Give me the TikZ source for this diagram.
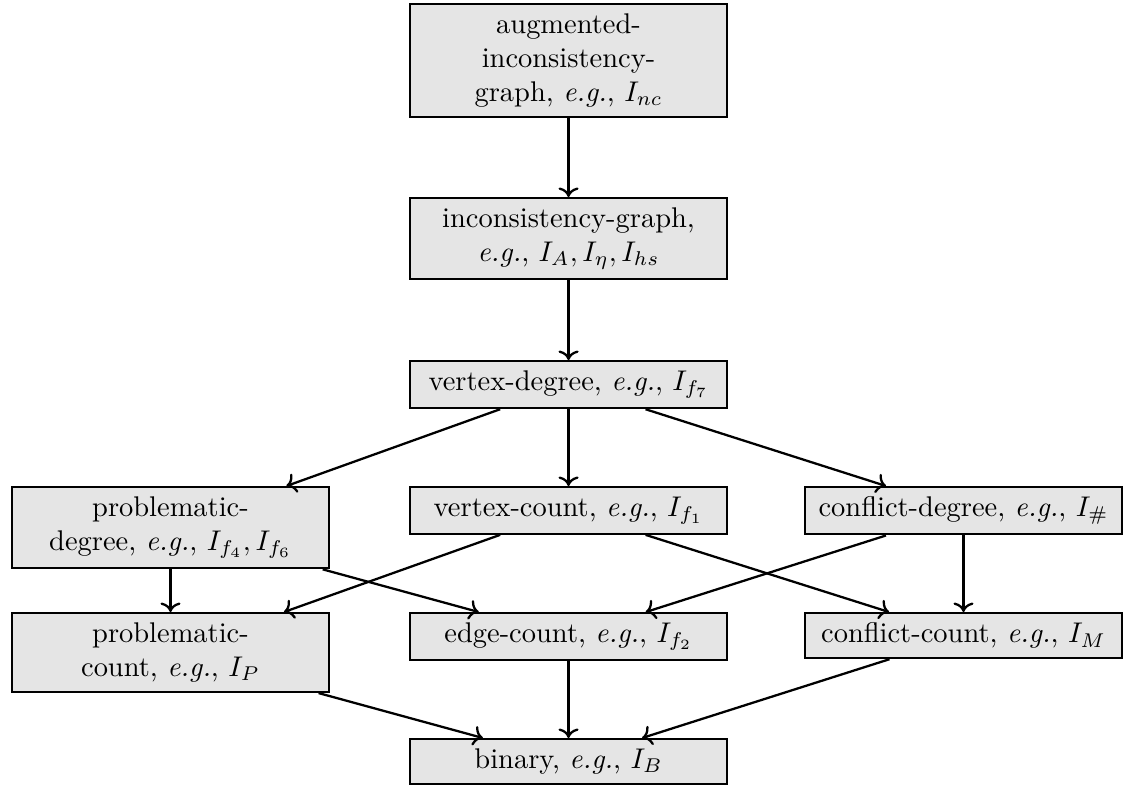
\documentclass[tikz,border=0pt]{standalone}
\usepackage{tikz}
\usetikzlibrary{positioning,arrows.meta}
\usepackage{amsmath}
\usepackage{amssymb}

\tikzset{
  cls/.style={draw, thick, fill=gray!20, align=center, minimum width=3.91cm, anchor=north},
  sub/.style={->, thick}
}

\begin{document}
\begin{tikzpicture}
\useasboundingbox (0,0) rectangle (13.926,-9.679);

% Top chain
\node[cls] (aug) at (7.019,-0.037) {augmented-\\inconsistency-\\graph, \textit{e.g.}, $I_{nc}$};
\node[cls] (incg) at (7.019,-2.432) {inconsistency-graph,\\\textit{e.g.}, $I_A, I_\eta, I_{hs}$};
\node[cls] (vdeg) at (7.019,-4.445) {vertex-degree, \textit{e.g.}, $I_{f_7}$};

% Degree row
\node[cls] (pdeg) at (2.105,-6.0) {problematic-\\degree, \textit{e.g.}, $I_{f_4}, I_{f_6}$};
\node[cls] (vcnt) at (7.019,-6.0) {vertex-count, \textit{e.g.}, $I_{f_1}$};
\node[cls] (cdeg) at (11.895,-6.0) {conflict-degree, \textit{e.g.}, $I_\#$};

% Count row
\node[cls] (pcnt) at (2.105,-7.556) {problematic-\\count, \textit{e.g.}, $I_P$};
\node[cls] (ecnt) at (7.019,-7.556) {edge-count, \textit{e.g.}, $I_{f_2}$};
\node[cls] (ccnt) at (11.895,-7.556) {conflict-count, \textit{e.g.}, $I_M$};

% Bottom
\node[cls] (bin) at (7.019,-9.111) {binary, \textit{e.g.}, $I_B$};

% Arrows
\draw[sub] (aug) -- (incg);
\draw[sub] (incg) -- (vdeg);
\draw[sub] (vdeg) -- (pdeg);
\draw[sub] (vdeg) -- (vcnt);
\draw[sub] (vdeg) -- (cdeg);
\draw[sub] (pdeg) -- (pcnt);
\draw[sub] (pdeg) -- (ecnt);
\draw[sub] (vcnt) -- (pcnt);
\draw[sub] (vcnt) -- (ccnt);
\draw[sub] (cdeg) -- (ecnt);
\draw[sub] (cdeg) -- (ccnt);
\draw[sub] (pcnt) -- (bin);
\draw[sub] (ecnt) -- (bin);
\draw[sub] (ccnt) -- (bin);
\end{tikzpicture}
\end{document}
